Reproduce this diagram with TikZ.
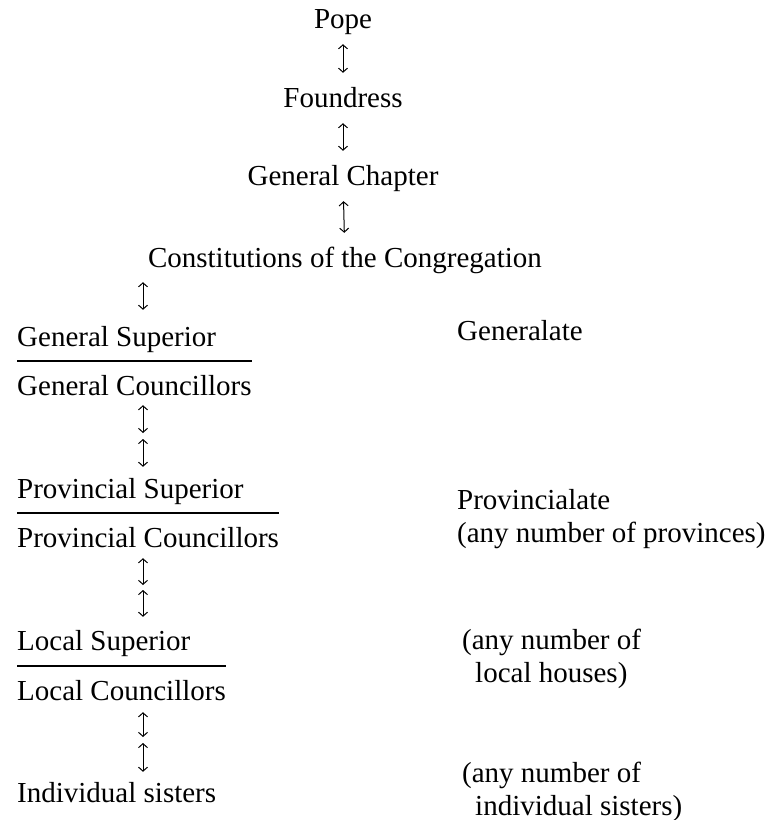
\documentclass[tikz,border=0pt]{standalone}
\usepackage{fontspec}
\setmainfont{Liberation Serif}
\usetikzlibrary{arrows.meta,positioning,calc}
\tikzset{
  txt/.style={inner sep=0pt, anchor=base west, text height=19pt, text depth=7pt, font=\fontsize{29}{33}\selectfont},
  top/.style={txt, anchor=base},
  note/.style={inner sep=0pt, anchor=base west, align=left, font=\fontsize{29}{33}\selectfont},
  link/.style={{Straight Barb[length=4pt,width=9pt]}-{Straight Barb[length=4pt,width=9pt]}, line width=1pt, shorten <=9pt, shorten >=15pt},
  bar/.style={line width=2pt}
}
\begin{document}
\begin{tikzpicture}[x=1pt,y=-1pt]
    \useasboundingbox (0,0) rectangle (772,820);
    \node[top] (pope) at (343,28) {Pope};
    \node[top] (found) at (343,107) {Foundress};
    \node[top] (chap) at (343,185) {General Chapter};
    \node[top] (cons) at (345,267) {Constitutions of the Congregation};
    \draw[link] (pope) -- (found);
    \draw[link] (found) -- (chap);
    \draw[link] (chap) -- (cons);

    \coordinate (col) at (143,0);
    \node[txt] (gsup) at (17,346) {General Superior};
    \node[txt] (gcou) at (17,395) {General Councillors};
    \node[txt] (psup) at (17,498) {Provincial Superior};
    \node[txt] (pcou) at (17,547) {Provincial Councillors};
    \node[txt] (lsup) at (17,650) {Local Superior};
    \node[txt] (lcou) at (17,700) {Local Councillors};
    \node[txt] (indv) at (17,802) {Individual sisters};
    \draw[bar] ([yshift=-15pt]gsup.base -| gcou.west) -- ([yshift=-15pt]gsup.base -| gcou.east);
    \draw[bar] ([yshift=-15pt]psup.base -| pcou.west) -- ([yshift=-15pt]psup.base -| pcou.east);
    \draw[bar] ([yshift=-16pt]lsup.base -| lcou.west) -- ([yshift=-16pt]lsup.base -| lcou.east);

    \draw[link, shorten <=8pt, shorten >=17pt] (cons.south -| col) -- (gsup.north -| col);
    \coordinate (m1) at (143,436);
    \coordinate (m2) at (143,588);
    \coordinate (m3) at (143,740);
    \draw[link, shorten <=3pt, shorten >=3pt] (gcou.south -| col) -- (m1);
    \draw[link, shorten <=3pt, shorten >=12pt] (m1) -- (psup.north -| col);
    \draw[link, shorten <=4pt, shorten >=3pt] (pcou.south -| col) -- (m2);
    \draw[link, shorten <=2pt, shorten >=14pt] (m2) -- (lsup.north -| col);
    \draw[link, shorten <=5pt, shorten >=3pt] (lcou.south -| col) -- (m3);
    \draw[link, shorten <=3pt, shorten >=11pt] (m3) -- (indv.north -| col);

    % multi-line notes sit on the baseline of their last line
    \node[note] (gen) at (457,340) {Generalate};
    \node[note] (prov) at (457,542) {Provincialate\\(any number of provinces)};
    \node[note] (loc) at (462,682) {(any number of\\\hspace*{13pt}local houses)};
    \node[note] (sis) at (462,815) {(any number of\\\hspace*{13pt}individual sisters)};
\end{tikzpicture}
\end{document}
